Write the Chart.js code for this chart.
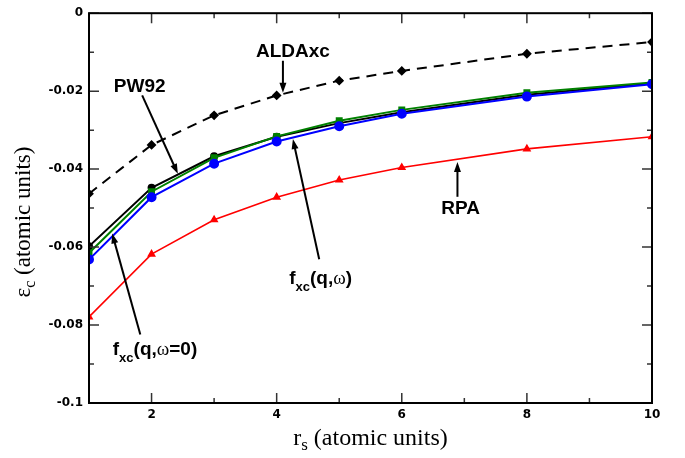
<!DOCTYPE html>
<html>
<head>
<meta charset="utf-8">
<script src="https://cdn.jsdelivr.net/npm/chart.js@4.4.0/dist/chart.umd.min.js"></script>
<style>
  html, body { margin: 0; padding: 0; background: #fff; }
  #wrap { width: 685px; height: 458px; }
</style>
</head>
<body>
<div id="wrap"><canvas id="chart" width="685" height="458"></canvas></div>
<script>
// r_s values (atomic units)
const rs = [1, 2, 3, 4, 5, 6, 8, 10];

// correlation energy per electron, atomic units
const aldaxc    = [-0.0463, -0.0338, -0.0262, -0.0211, -0.0173, -0.0148, -0.0104, -0.0074];
const pw92      = [-0.0598, -0.0448, -0.0367, -0.0317, -0.0282, -0.0254, -0.0209, -0.0180];
const fxcStatic = [-0.0615, -0.0458, -0.0371, -0.0316, -0.0276, -0.0248, -0.0204, -0.0178];
const fxcDyn    = [-0.0632, -0.0472, -0.0386, -0.0329, -0.0290, -0.0258, -0.0214, -0.0182];
const rpa       = [-0.0779, -0.0618, -0.0530, -0.0472, -0.0428, -0.0396, -0.0348, -0.0317];

// tick labels
const xTickLabels = [2, 4, 6, 8, 10];
const yTickLabels = [0, -0.02, -0.04, -0.06, -0.08, -0.1];

// annotation labels, anchored in data coordinates
const notes = [
  { parts: [['ALDAxc', 'b']], x: 4.26, y: -0.0112, align: 'center', from: [4.10, -0.0122], to: [4.10, -0.0204] },
  { parts: [['PW92', 'b']], x: 1.81, y: -0.0201, align: 'center', from: [1.85, -0.0211], to: [2.42, -0.0412] },
  { parts: [['f', 'b'], ['xc', 'sub'], ['(q,', 'b'], ['\u03c9', 'g'], [')', 'b']], x: 4.2, y: -0.0695, align: 'left', from: [4.68, -0.0631], to: [4.26, -0.0323] },
  { parts: [['RPA', 'b']], x: 6.94, y: -0.0514, align: 'center', from: [6.89, -0.0471], to: [6.89, -0.0382] },
  { parts: [['f', 'b'], ['xc', 'sub'], ['(q,', 'b'], ['\u03c9', 'g'], ['=0)', 'b']], x: 1.38, y: -0.0878, align: 'left', from: [1.82, -0.0824], to: [1.37, -0.0565] }
];

function pts(ys) {
  return rs.map((x, i) => ({ x: x, y: ys[i] }));
}

function fontFor(kind) {
  if (kind === 'sub') return 'bold 13px "Liberation Sans"';
  if (kind === 'g') return '19px "Liberation Serif"';
  return 'bold 19px "Liberation Sans"';
}

function drawArrow(ctx, x1, y1, x2, y2) {
  const ang = Math.atan2(y2 - y1, x2 - x1);
  const len = 10, half = 3.5;
  ctx.beginPath();
  ctx.moveTo(x1, y1);
  ctx.lineTo(x2 - Math.cos(ang) * len * 0.8, y2 - Math.sin(ang) * len * 0.8);
  ctx.stroke();
  ctx.beginPath();
  ctx.moveTo(x2, y2);
  ctx.lineTo(x2 - Math.cos(ang) * len - Math.sin(ang) * half, y2 - Math.sin(ang) * len + Math.cos(ang) * half);
  ctx.lineTo(x2 - Math.cos(ang) * len + Math.sin(ang) * half, y2 - Math.sin(ang) * len - Math.cos(ang) * half);
  ctx.closePath();
  ctx.fill();
}

// frame, inward ticks on all sides, axis titles and annotations
const decorations = {
  id: 'decorations',
  afterDraw(chart) {
    const ctx = chart.ctx;
    const area = chart.chartArea;
    const xs = chart.scales.x, ys = chart.scales.y;
    ctx.save();

    // ticks
    ctx.strokeStyle = '#333';
    ctx.lineWidth = 1.5;
    xs.ticks.forEach(t => {
      const px = xs.getPixelForValue(t.value);
      const len = Math.round(t.value) % 2 === 0 ? 10 : 5;
      ctx.beginPath();
      ctx.moveTo(px, area.bottom); ctx.lineTo(px, area.bottom - len);
      ctx.moveTo(px, area.top); ctx.lineTo(px, area.top + len);
      ctx.stroke();
    });
    ys.ticks.forEach(t => {
      const py = ys.getPixelForValue(t.value);
      const len = Math.round(t.value * 100) % 2 === 0 ? 10 : 5;
      ctx.beginPath();
      ctx.moveTo(area.left, py); ctx.lineTo(area.left + len, py);
      ctx.moveTo(area.right, py); ctx.lineTo(area.right - len, py);
      ctx.stroke();
    });

    // frame
    ctx.strokeStyle = '#000';
    ctx.lineWidth = 2;
    ctx.strokeRect(area.left, area.top, area.right - area.left, area.bottom - area.top);

    // x title: r_s (atomic units)
    ctx.fillStyle = '#000';
    ctx.textBaseline = 'alphabetic';
    ctx.textAlign = 'left';
    let big = '24px "Liberation Serif"', small = '17px "Liberation Serif"';
    ctx.font = big;
    const wR = ctx.measureText('r').width;
    const wRest = ctx.measureText(' (atomic units)').width;
    ctx.font = small;
    const wS = ctx.measureText('s').width;
    let x0 = (area.left + area.right) / 2 - (wR + wS + wRest) / 2;
    const by = 445;
    ctx.font = big; ctx.fillText('r', x0, by);
    ctx.font = small; ctx.fillText('s', x0 + wR, by + 5);
    ctx.font = big; ctx.fillText(' (atomic units)', x0 + wR + wS, by);

    // y title: epsilon_c (atomic units)
    big = '23px "Liberation Serif"'; small = '16px "Liberation Serif"';
    ctx.save();
    ctx.translate(30, 222);
    ctx.rotate(-Math.PI / 2);
    ctx.font = big;
    const wE = ctx.measureText('\u03b5').width;
    const wRest2 = ctx.measureText(' (atomic units)').width;
    ctx.font = small;
    const wC = ctx.measureText('c').width;
    x0 = -(wE + wC + wRest2) / 2;
    ctx.font = big; ctx.fillText('\u03b5', x0, 0);
    ctx.font = small; ctx.fillText('c', x0 + wE, 5);
    ctx.font = big; ctx.fillText(' (atomic units)', x0 + wE + wC, 0);
    ctx.restore();

    // annotations
    ctx.strokeStyle = '#000';
    ctx.fillStyle = '#000';
    ctx.lineWidth = 2;
    notes.forEach(n => {
      drawArrow(ctx,
        xs.getPixelForValue(n.from[0]), ys.getPixelForValue(n.from[1]),
        xs.getPixelForValue(n.to[0]), ys.getPixelForValue(n.to[1]));
      let total = 0;
      n.parts.forEach(p => { ctx.font = fontFor(p[1]); total += ctx.measureText(p[0]).width; });
      let cx = xs.getPixelForValue(n.x);
      if (n.align === 'center') cx -= total / 2;
      const cy = ys.getPixelForValue(n.y);
      n.parts.forEach(p => {
        ctx.font = fontFor(p[1]);
        ctx.fillText(p[0], cx, p[1] === 'sub' ? cy + 7 : cy);
        cx += ctx.measureText(p[0]).width;
      });
    });

    ctx.restore();
  }
};

const tickFont = { family: 'DejaVu Sans', size: 12, weight: 'bold' };

new Chart(document.getElementById('chart').getContext('2d'), {
  type: 'line',
  data: {
    datasets: [
      {
        label: 'fxc(q,w)', data: pts(fxcDyn),
        borderColor: '#0000ff', backgroundColor: '#0000ff', borderWidth: 2,
        pointStyle: 'circle', pointRadius: 4
      },
      {
        label: 'fxc(q,w=0)', data: pts(fxcStatic),
        borderColor: '#008000', backgroundColor: '#008000', borderWidth: 2,
        pointStyle: 'rect', pointRadius: 3.5
      },
      {
        label: 'PW92', data: pts(pw92),
        borderColor: '#000', backgroundColor: '#000', borderWidth: 2,
        pointStyle: 'circle', pointRadius: 3
      },
      {
        label: 'ALDAxc', data: pts(aldaxc),
        borderColor: '#000', backgroundColor: '#000', borderWidth: 2, borderDash: [10, 7],
        pointStyle: 'rectRot', pointRadius: 3.5
      },
      {
        label: 'RPA', data: pts(rpa),
        borderColor: '#ff0000', backgroundColor: '#ff0000', borderWidth: 1.6,
        pointStyle: 'triangle', pointRadius: 3.5
      }
    ]
  },
  options: {
    responsive: false,
    animation: false,
    devicePixelRatio: 1,
    layout: { padding: { left: 0, top: 10, right: 33, bottom: 0 } },
    plugins: { legend: { display: false }, tooltip: { enabled: false } },
    elements: { line: { tension: 0 }, point: { borderWidth: 0 } },
    scales: {
      x: {
        type: 'linear', min: 1, max: 10,
        grid: { display: false, drawTicks: false },
        border: { display: false },
        ticks: {
          stepSize: 1, autoSkip: false, maxRotation: 0, padding: 5,
          color: '#000', font: tickFont,
          callback: v => xTickLabels.includes(v) ? String(v) : ''
        },
        afterFit: s => { s.height = 55; }
      },
      y: {
        type: 'linear', min: -0.1, max: 0,
        grid: { display: false, drawTicks: false },
        border: { display: false },
        ticks: {
          stepSize: 0.01, autoSkip: false, padding: 6,
          color: '#000', font: tickFont,
          callback: v => {
            const hit = yTickLabels.find(t => Math.abs(t - v) < 1e-6);
            return hit === undefined ? '' : String(hit);
          }
        },
        afterFit: s => { s.width = 89; }
      }
    }
  },
  plugins: [decorations]
});
</script>
</body>
</html>
